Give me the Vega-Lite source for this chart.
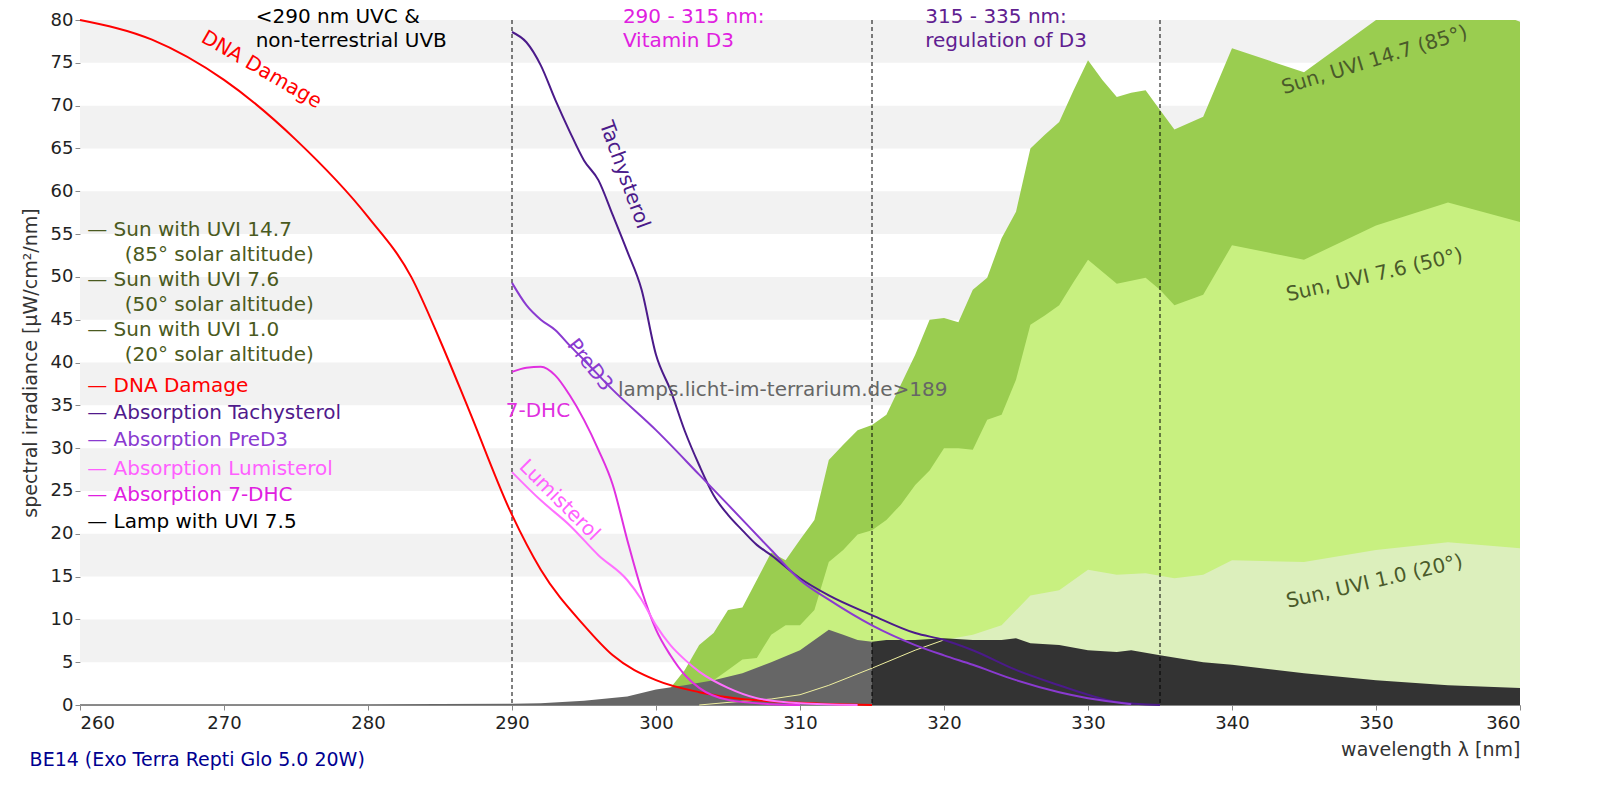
{
  "$schema": "https://vega.github.io/schema/vega-lite/v6.json",
  "width": 1440,
  "height": 685,
  "autosize": "none",
  "padding": {"left": 80, "top": 20, "right": 80, "bottom": 95},
  "background": "white",
  "config": {"view": {"stroke": null}, "font": "DejaVu Sans", "text": {"font": "DejaVu Sans"}},
  "datasets": {
    "bands": [
      {"lo": 5, "hi": 10}, {"lo": 15, "hi": 20}, {"lo": 25, "hi": 30}, {"lo": 35, "hi": 40},
      {"lo": 45, "hi": 50}, {"lo": 55, "hi": 60}, {"lo": 65, "hi": 70}, {"lo": 75, "hi": 80}
    ],
    "sun147": [
      {"nm": 300, "v": 0}, {"nm": 301, "v": 2}, {"nm": 302, "v": 4.1}, {"nm": 303, "v": 7}, {"nm": 304, "v": 8.4},
      {"nm": 305, "v": 11.1}, {"nm": 306, "v": 11.4}, {"nm": 307, "v": 14.6}, {"nm": 308, "v": 17.8}, {"nm": 309, "v": 16.9},
      {"nm": 310, "v": 19.3}, {"nm": 311, "v": 21.6}, {"nm": 312, "v": 28.6}, {"nm": 313, "v": 30.4}, {"nm": 314, "v": 32.1},
      {"nm": 315, "v": 32.7}, {"nm": 316, "v": 33.9}, {"nm": 317, "v": 37.4}, {"nm": 318, "v": 40.9}, {"nm": 319, "v": 45},
      {"nm": 320, "v": 45.2}, {"nm": 321, "v": 44.7}, {"nm": 322, "v": 48.5}, {"nm": 323, "v": 49.9}, {"nm": 324, "v": 54.5},
      {"nm": 325, "v": 57.6}, {"nm": 326, "v": 65}, {"nm": 327, "v": 66.6}, {"nm": 328, "v": 68.1}, {"nm": 329, "v": 71.8},
      {"nm": 330, "v": 75.3}, {"nm": 331, "v": 73}, {"nm": 332, "v": 71}, {"nm": 333, "v": 71.5}, {"nm": 334, "v": 71.8},
      {"nm": 335, "v": 69.5}, {"nm": 336, "v": 67.2}, {"nm": 338, "v": 68.7}, {"nm": 340, "v": 76.7}, {"nm": 345, "v": 73.9},
      {"nm": 350, "v": 80}, {"nm": 355, "v": 83}, {"nm": 360, "v": 79.8}
    ],
    "sun76": [
      {"nm": 302, "v": 0.5}, {"nm": 303, "v": 1.8}, {"nm": 304, "v": 2.9}, {"nm": 305, "v": 4.1}, {"nm": 306, "v": 5.3},
      {"nm": 307, "v": 5.5}, {"nm": 308, "v": 8.2}, {"nm": 309, "v": 9.3}, {"nm": 310, "v": 9.3}, {"nm": 311, "v": 11.1},
      {"nm": 312, "v": 16.7}, {"nm": 313, "v": 18.1}, {"nm": 314, "v": 19.9}, {"nm": 315, "v": 20.4}, {"nm": 316, "v": 21.6},
      {"nm": 317, "v": 23.4}, {"nm": 318, "v": 25.7}, {"nm": 319, "v": 27.4}, {"nm": 320, "v": 30}, {"nm": 321, "v": 30},
      {"nm": 322, "v": 29.8}, {"nm": 323, "v": 33.3}, {"nm": 324, "v": 33.9}, {"nm": 325, "v": 38}, {"nm": 326, "v": 44.4},
      {"nm": 327, "v": 45.5}, {"nm": 328, "v": 46.7}, {"nm": 329, "v": 49.4}, {"nm": 330, "v": 52}, {"nm": 331, "v": 50.6},
      {"nm": 332, "v": 49.2}, {"nm": 334, "v": 49.9}, {"nm": 335, "v": 48.5}, {"nm": 336, "v": 46.7}, {"nm": 338, "v": 47.9},
      {"nm": 340, "v": 53.7}, {"nm": 345, "v": 52}, {"nm": 350, "v": 56}, {"nm": 355, "v": 58.7}, {"nm": 360, "v": 56.4}
    ],
    "sun10": [
      {"nm": 303, "v": 0}, {"nm": 305, "v": 0.3}, {"nm": 308, "v": 0.7}, {"nm": 310, "v": 1.2}, {"nm": 312, "v": 2.3},
      {"nm": 315, "v": 4.3}, {"nm": 318, "v": 6.4}, {"nm": 320, "v": 7.6}, {"nm": 322, "v": 8.2}, {"nm": 324, "v": 9.3},
      {"nm": 326, "v": 12.8}, {"nm": 328, "v": 13.4}, {"nm": 330, "v": 15.8}, {"nm": 332, "v": 15.2}, {"nm": 334, "v": 15.4},
      {"nm": 336, "v": 14.8}, {"nm": 338, "v": 15.2}, {"nm": 340, "v": 16.9}, {"nm": 345, "v": 16.7}, {"nm": 350, "v": 18.1},
      {"nm": 355, "v": 19}, {"nm": 360, "v": 18.3}
    ],
    "lamp": [
      {"nm": 260, "v": 0.1, "part": "a"}, {"nm": 270, "v": 0.1, "part": "a"}, {"nm": 280, "v": 0.1, "part": "a"},
      {"nm": 290, "v": 0.15, "part": "a"}, {"nm": 292, "v": 0.2, "part": "a"}, {"nm": 295, "v": 0.5, "part": "a"},
      {"nm": 298, "v": 1, "part": "a"}, {"nm": 300, "v": 1.8, "part": "a"}, {"nm": 302, "v": 2.3, "part": "a"},
      {"nm": 304, "v": 2.9, "part": "a"}, {"nm": 306, "v": 3.7, "part": "a"}, {"nm": 308, "v": 5, "part": "a"},
      {"nm": 310, "v": 6.4, "part": "a"}, {"nm": 311, "v": 7.6, "part": "a"}, {"nm": 312, "v": 8.8, "part": "a"},
      {"nm": 313, "v": 8.2, "part": "a"}, {"nm": 314, "v": 7.6, "part": "a"}, {"nm": 315, "v": 7.4, "part": "a"},
      {"nm": 315, "v": 7.4, "part": "b"}, {"nm": 316, "v": 7.6, "part": "b"}, {"nm": 318, "v": 7.6, "part": "b"},
      {"nm": 320, "v": 7.8, "part": "b"}, {"nm": 322, "v": 7.6, "part": "b"}, {"nm": 324, "v": 7.6, "part": "b"},
      {"nm": 325, "v": 7.8, "part": "b"}, {"nm": 326, "v": 7.2, "part": "b"}, {"nm": 328, "v": 7, "part": "b"},
      {"nm": 330, "v": 6.4, "part": "b"}, {"nm": 332, "v": 6.2, "part": "b"}, {"nm": 333, "v": 6.4, "part": "b"},
      {"nm": 335, "v": 5.8, "part": "b"}, {"nm": 338, "v": 5, "part": "b"}, {"nm": 340, "v": 4.7, "part": "b"},
      {"nm": 345, "v": 3.7, "part": "b"}, {"nm": 350, "v": 2.9, "part": "b"}, {"nm": 355, "v": 2.3, "part": "b"},
      {"nm": 360, "v": 2, "part": "b"}
    ],
    "curves": [
      {"s": "DNA", "nm": 260, "v": 80}, {"s": "DNA", "nm": 265, "v": 77.7}, {"s": "DNA", "nm": 270, "v": 73},
      {"s": "DNA", "nm": 275, "v": 66}, {"s": "DNA", "nm": 280, "v": 57}, {"s": "DNA", "nm": 283, "v": 50},
      {"s": "DNA", "nm": 285, "v": 42.6}, {"s": "DNA", "nm": 287, "v": 34.5}, {"s": "DNA", "nm": 290, "v": 22.2},
      {"s": "DNA", "nm": 292, "v": 15.8}, {"s": "DNA", "nm": 295, "v": 9.3}, {"s": "DNA", "nm": 297, "v": 5.8},
      {"s": "DNA", "nm": 300, "v": 2.9}, {"s": "DNA", "nm": 303, "v": 1.5}, {"s": "DNA", "nm": 305, "v": 0.9},
      {"s": "DNA", "nm": 310, "v": 0.25}, {"s": "DNA", "nm": 315, "v": 0},
      {"s": "Tachy", "nm": 290, "v": 78.6}, {"s": "Tachy", "nm": 291, "v": 77.4}, {"s": "Tachy", "nm": 292, "v": 74.7},
      {"s": "Tachy", "nm": 293, "v": 70.7}, {"s": "Tachy", "nm": 294, "v": 67}, {"s": "Tachy", "nm": 295, "v": 63.6},
      {"s": "Tachy", "nm": 296, "v": 61.3}, {"s": "Tachy", "nm": 297, "v": 57.2}, {"s": "Tachy", "nm": 298, "v": 53},
      {"s": "Tachy", "nm": 299, "v": 48.5}, {"s": "Tachy", "nm": 300, "v": 40.9}, {"s": "Tachy", "nm": 301, "v": 36.8},
      {"s": "Tachy", "nm": 302, "v": 32}, {"s": "Tachy", "nm": 303, "v": 28}, {"s": "Tachy", "nm": 304, "v": 24.5},
      {"s": "Tachy", "nm": 305, "v": 22.2}, {"s": "Tachy", "nm": 306, "v": 20.4}, {"s": "Tachy", "nm": 307, "v": 18.7},
      {"s": "Tachy", "nm": 308, "v": 17.5}, {"s": "Tachy", "nm": 310, "v": 14.8}, {"s": "Tachy", "nm": 312, "v": 12.8},
      {"s": "Tachy", "nm": 315, "v": 10.5}, {"s": "Tachy", "nm": 318, "v": 8.4}, {"s": "Tachy", "nm": 320, "v": 7.6},
      {"s": "Tachy", "nm": 322, "v": 6.4}, {"s": "Tachy", "nm": 325, "v": 4.1}, {"s": "Tachy", "nm": 328, "v": 2.3},
      {"s": "Tachy", "nm": 330, "v": 1.2}, {"s": "Tachy", "nm": 332, "v": 0.35}, {"s": "Tachy", "nm": 335, "v": 0},
      {"s": "PreD3", "nm": 290, "v": 49.3}, {"s": "PreD3", "nm": 291, "v": 46.7}, {"s": "PreD3", "nm": 292, "v": 45},
      {"s": "PreD3", "nm": 293, "v": 43.8}, {"s": "PreD3", "nm": 294, "v": 42}, {"s": "PreD3", "nm": 295, "v": 40.3},
      {"s": "PreD3", "nm": 297, "v": 36.8}, {"s": "PreD3", "nm": 300, "v": 32.1}, {"s": "PreD3", "nm": 303, "v": 26.9},
      {"s": "PreD3", "nm": 305, "v": 23.4}, {"s": "PreD3", "nm": 308, "v": 18.1}, {"s": "PreD3", "nm": 310, "v": 14.6},
      {"s": "PreD3", "nm": 312, "v": 12.3}, {"s": "PreD3", "nm": 315, "v": 9.3}, {"s": "PreD3", "nm": 318, "v": 7},
      {"s": "PreD3", "nm": 320, "v": 5.8}, {"s": "PreD3", "nm": 322, "v": 4.7}, {"s": "PreD3", "nm": 325, "v": 2.9},
      {"s": "PreD3", "nm": 328, "v": 1.5}, {"s": "PreD3", "nm": 330, "v": 0.8}, {"s": "PreD3", "nm": 333, "v": 0.1},
      {"s": "DHC", "nm": 290, "v": 38.9}, {"s": "DHC", "nm": 291, "v": 39.4}, {"s": "DHC", "nm": 292, "v": 39.5},
      {"s": "DHC", "nm": 293, "v": 38.5}, {"s": "DHC", "nm": 294, "v": 36.2}, {"s": "DHC", "nm": 295, "v": 33.3},
      {"s": "DHC", "nm": 296, "v": 29.8}, {"s": "DHC", "nm": 297, "v": 25.7}, {"s": "DHC", "nm": 298, "v": 19.3},
      {"s": "DHC", "nm": 299, "v": 13.4}, {"s": "DHC", "nm": 300, "v": 8.8}, {"s": "DHC", "nm": 301, "v": 5.8},
      {"s": "DHC", "nm": 302, "v": 3.5}, {"s": "DHC", "nm": 303, "v": 2}, {"s": "DHC", "nm": 305, "v": 0.6},
      {"s": "DHC", "nm": 308, "v": 0.1}, {"s": "DHC", "nm": 310, "v": 0},
      {"s": "Lumi", "nm": 290, "v": 27.2}, {"s": "Lumi", "nm": 292, "v": 23.9}, {"s": "Lumi", "nm": 294, "v": 21},
      {"s": "Lumi", "nm": 296, "v": 17.5}, {"s": "Lumi", "nm": 298, "v": 14.6}, {"s": "Lumi", "nm": 299, "v": 12.3},
      {"s": "Lumi", "nm": 300, "v": 9.3}, {"s": "Lumi", "nm": 301, "v": 7}, {"s": "Lumi", "nm": 302, "v": 5.3},
      {"s": "Lumi", "nm": 303, "v": 3.9}, {"s": "Lumi", "nm": 305, "v": 2}, {"s": "Lumi", "nm": 307, "v": 0.8},
      {"s": "Lumi", "nm": 310, "v": 0.2}, {"s": "Lumi", "nm": 314, "v": 0}
    ],
    "notes": [
      {"t": "lamps.licht-im-terrarium.de>189", "k": "wm", "nm": 308.8, "v": 36.8},
      {"t": "DNA Damage", "k": "dna", "nm": 272.6, "v": 74.2},
      {"t": "Tachysterol", "k": "tachy", "nm": 297.8, "v": 61.9},
      {"t": "PreD3", "k": "pred3", "nm": 295.4, "v": 39.7},
      {"t": "7-DHC", "k": "dhc", "nm": 291.8, "v": 34.3},
      {"t": "Lumisterol", "k": "lumi", "nm": 293.3, "v": 23.9},
      {"t": "Sun, UVI 14.7 (85°)", "k": "s1", "nm": 349.9, "v": 75.3},
      {"t": "Sun, UVI 7.6 (50°)", "k": "s2", "nm": 349.9, "v": 50.2},
      {"t": "Sun, UVI 1.0 (20°)", "k": "s3", "nm": 349.9, "v": 14.4},
      {"t": "BE14 (Exo Terra Repti Glo 5.0 20W)", "k": "be", "nm": 256.5, "v": -6.4}
    ],
    "heads": [
      {"t": "<290 nm UVC &", "k": "h1", "nm": 272.2, "v": 80.3},
      {"t": "non-terrestrial UVB", "k": "h1", "nm": 272.2, "v": 77.5},
      {"t": "290 - 315 nm:", "k": "h2", "nm": 297.7, "v": 80.3},
      {"t": "Vitamin D3", "k": "h2", "nm": 297.7, "v": 77.5},
      {"t": "315 - 335 nm:", "k": "h3", "nm": 318.7, "v": 80.3},
      {"t": "regulation of D3", "k": "h3", "nm": 318.7, "v": 77.5}
    ],
    "legend": [
      {"t": "— Sun with UVI 14.7", "k": "sun", "nm": 260.5, "v": 55.5},
      {"t": "(85° solar altitude)", "k": "sun", "nm": 263.1, "v": 52.6},
      {"t": "— Sun with UVI 7.6", "k": "sun", "nm": 260.5, "v": 49.6},
      {"t": "(50° solar altitude)", "k": "sun", "nm": 263.1, "v": 46.7},
      {"t": "— Sun with UVI 1.0", "k": "sun", "nm": 260.5, "v": 43.8},
      {"t": "(20° solar altitude)", "k": "sun", "nm": 263.1, "v": 40.9},
      {"t": "— DNA Damage", "k": "dna", "nm": 260.5, "v": 37.3},
      {"t": "— Absorption Tachysterol", "k": "tachy", "nm": 260.5, "v": 34.1},
      {"t": "— Absorption PreD3", "k": "pred3", "nm": 260.5, "v": 30.9},
      {"t": "— Absorption Lumisterol", "k": "lumi", "nm": 260.5, "v": 27.6},
      {"t": "— Absorption 7-DHC", "k": "dhc", "nm": 260.5, "v": 24.5},
      {"t": "— Lamp with UVI 7.5", "k": "lamp", "nm": 260.5, "v": 21.4}
    ]
  },
  "resolve": {"scale": {"color": "independent"}},
  "layer": [
    {"data": {"name": "bands"}, "mark": {"type": "rect", "color": "#f2f2f2"},
      "encoding": {"y": {"field": "lo", "type": "quantitative", "scale": {"domain": [0, 80], "nice": false}}, "y2": {"field": "hi"}}},
    {"data": {"name": "sun147"}, "mark": {"type": "area", "color": "#9acd50", "clip": true},
      "encoding": {
        "x": {"field": "nm", "type": "quantitative", "scale": {"domain": [260, 360], "nice": false},
          "axis": {"values": [260, 270, 280, 290, 300, 310, 320, 330, 340, 350, 360], "grid": false, "labelFontSize": 18, "labelColor": "#222", "title": "wavelength λ [nm]", "titleAnchor": "end", "titleFontSize": 19, "titleFontWeight": "normal", "titleColor": "#333", "domainColor": "#888", "tickColor": "#888", "labelPadding": 4, "titlePadding": 8}},
        "y": {"field": "v", "type": "quantitative", "scale": {"domain": [0, 80], "nice": false},
          "axis": {"values": [0, 5, 10, 15, 20, 25, 30, 35, 40, 45, 50, 55, 60, 65, 70, 75, 80], "grid": false, "labelFontSize": 18, "labelColor": "#222", "title": "spectral irradiance [µW/cm²/nm]", "titleFontSize": 19, "titleFontWeight": "normal", "titleColor": "#333", "domain": false, "tickColor": "#888", "titlePadding": 10}}}},
    {"data": {"name": "sun76"}, "mark": {"type": "area", "color": "#c8f080", "clip": true},
      "encoding": {"x": {"field": "nm", "type": "quantitative"}, "y": {"field": "v", "type": "quantitative"}}},
    {"data": {"name": "sun10"}, "mark": {"type": "area", "color": "#dcefbc", "clip": true},
      "encoding": {"x": {"field": "nm", "type": "quantitative"}, "y": {"field": "v", "type": "quantitative"}}},
    {"data": {"name": "lamp"}, "transform": [{"filter": "datum.part == 'a'"}], "mark": {"type": "area", "color": "#666666"},
      "encoding": {"x": {"field": "nm", "type": "quantitative"}, "y": {"field": "v", "type": "quantitative"}}},
    {"data": {"name": "lamp"}, "transform": [{"filter": "datum.part == 'b'"}], "mark": {"type": "area", "color": "#333333"},
      "encoding": {"x": {"field": "nm", "type": "quantitative"}, "y": {"field": "v", "type": "quantitative"}}},
    {"data": {"name": "sun10"}, "transform": [{"filter": "datum.nm <= 321"}], "mark": {"type": "line", "color": "#f0f0a0", "strokeWidth": 1},
      "encoding": {"x": {"field": "nm", "type": "quantitative"}, "y": {"field": "v", "type": "quantitative"}}},
    {"data": {"values": [{"nm": 290}, {"nm": 315}, {"nm": 335}]}, "mark": {"type": "rule", "color": "#000", "strokeDash": [4, 3], "strokeWidth": 1},
      "encoding": {"x": {"field": "nm", "type": "quantitative"}}},
    {"data": {"name": "curves"}, "mark": {"type": "line", "strokeWidth": 2, "interpolate": "monotone"},
      "encoding": {"x": {"field": "nm", "type": "quantitative"}, "y": {"field": "v", "type": "quantitative"}, "detail": {"field": "s"},
        "color": {"field": "s", "type": "nominal", "legend": null,
          "scale": {"domain": ["DNA", "Tachy", "PreD3", "DHC", "Lumi"], "range": ["#ff0000", "#4b1a8a", "#8a3ad0", "#e030e0", "#ff70ff"]}}}},
    {"data": {"name": "heads"}, "mark": {"type": "text", "fontSize": 20, "align": "left", "baseline": "middle"},
      "encoding": {"x": {"field": "nm", "type": "quantitative"}, "y": {"field": "v", "type": "quantitative"}, "text": {"field": "t"},
        "color": {"field": "k", "type": "nominal", "legend": null,
          "scale": {"domain": ["h1", "h2", "h3"], "range": ["#000000", "#e020e0", "#602090"]}}}},
    {"data": {"name": "notes"}, "transform": [{"filter": "datum.k == 'wm'"}], "mark": {"type": "text", "fontSize": 20, "color": "#666"},
      "encoding": {"x": {"field": "nm", "type": "quantitative"}, "y": {"field": "v", "type": "quantitative"}, "text": {"field": "t"}}},
    {"data": {"name": "notes"}, "transform": [{"filter": "datum.k == 'be'"}], "mark": {"type": "text", "fontSize": 19, "color": "#000090", "align": "left"},
      "encoding": {"x": {"field": "nm", "type": "quantitative"}, "y": {"field": "v", "type": "quantitative"}, "text": {"field": "t"}}},
    {"data": {"name": "notes"}, "transform": [{"filter": "datum.k == 'dna'"}], "mark": {"type": "text", "fontSize": 20, "color": "#ff0000", "angle": 30},
      "encoding": {"x": {"field": "nm", "type": "quantitative"}, "y": {"field": "v", "type": "quantitative"}, "text": {"field": "t"}}},
    {"data": {"name": "notes"}, "transform": [{"filter": "datum.k == 'tachy'"}], "mark": {"type": "text", "fontSize": 20, "color": "#4b1a8a", "angle": 70},
      "encoding": {"x": {"field": "nm", "type": "quantitative"}, "y": {"field": "v", "type": "quantitative"}, "text": {"field": "t"}}},
    {"data": {"name": "notes"}, "transform": [{"filter": "datum.k == 'pred3'"}], "mark": {"type": "text", "fontSize": 20, "color": "#8a3ad0", "angle": 52},
      "encoding": {"x": {"field": "nm", "type": "quantitative"}, "y": {"field": "v", "type": "quantitative"}, "text": {"field": "t"}}},
    {"data": {"name": "notes"}, "transform": [{"filter": "datum.k == 'dhc'"}], "mark": {"type": "text", "fontSize": 20, "color": "#e030e0"},
      "encoding": {"x": {"field": "nm", "type": "quantitative"}, "y": {"field": "v", "type": "quantitative"}, "text": {"field": "t"}}},
    {"data": {"name": "notes"}, "transform": [{"filter": "datum.k == 'lumi'"}], "mark": {"type": "text", "fontSize": 20, "color": "#ff60ff", "angle": 45},
      "encoding": {"x": {"field": "nm", "type": "quantitative"}, "y": {"field": "v", "type": "quantitative"}, "text": {"field": "t"}}},
    {"data": {"name": "notes"}, "transform": [{"filter": "datum.k == 's1'"}], "mark": {"type": "text", "fontSize": 20, "color": "#4a5a2a", "angle": -17},
      "encoding": {"x": {"field": "nm", "type": "quantitative"}, "y": {"field": "v", "type": "quantitative"}, "text": {"field": "t"}}},
    {"data": {"name": "notes"}, "transform": [{"filter": "datum.k == 's2' || datum.k == 's3'"}], "mark": {"type": "text", "fontSize": 20, "color": "#4a5a2a", "angle": -13},
      "encoding": {"x": {"field": "nm", "type": "quantitative"}, "y": {"field": "v", "type": "quantitative"}, "text": {"field": "t"}}},
    {"data": {"name": "legend"}, "mark": {"type": "text", "fontSize": 20, "align": "left", "baseline": "middle"},
      "encoding": {"x": {"field": "nm", "type": "quantitative"}, "y": {"field": "v", "type": "quantitative"}, "text": {"field": "t"},
        "color": {"field": "k", "type": "nominal", "legend": null,
          "scale": {"domain": ["sun", "dna", "tachy", "pred3", "lumi", "dhc", "lamp"], "range": ["#4a5a20", "#ff0000", "#501a8c", "#8a3ad0", "#ff60ff", "#e020e0", "#000000"]}}}}
  ]
}
